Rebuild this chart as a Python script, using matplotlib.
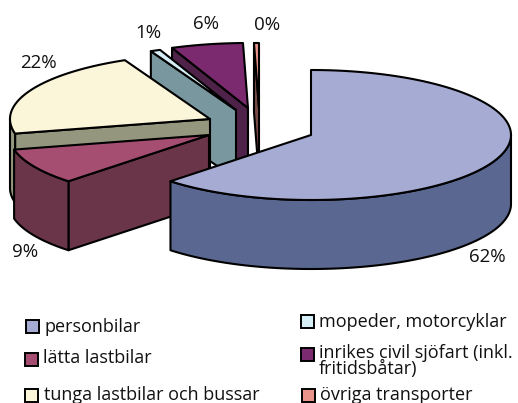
import matplotlib
matplotlib.use("Agg")
import matplotlib.pyplot as plt
import numpy as np
from matplotlib.patches import Polygon, Rectangle

plt.rcParams['font.family'] = ['Open Sans', 'DejaVu Sans']

# shares in percent, clockwise from 12 o'clock
categories = ["personbilar", "lätta lastbilar", "tunga lastbilar och bussar",
              "mopeder, motorcyklar", "inrikes civil sjöfart (inkl.\nfritidsbåtar)",
              "övriga transporter"]
shares = [62.4, 9, 21.6, 0.8, 5.8, 0.4]
pct_labels = ["62%", "9%", "22%", "1%", "6%", "0%"]

top_colors = ["#A6ABD3", "#A54E72", "#FBF6DA", "#D6EEF6", "#7B2A6F", "#E8948A"]
side_colors = ["#5A6790", "#6A3548", "#95967E", "#78979E", "#4F2249", "#7A4A46"]

# where each slice's centre ended up after exploding, image pixels
centers = [(311, 135), (209, 135), (210, 119), (236, 110), (248, 108), (259, 108)]
label_pos = [(487, 257), (25, 252), (38, 63), (148, 33), (206, 24), (267, 25)]
legend_pos = [(32, 326), (31, 359), (31, 395), (307, 321), (307, 354), (308, 395)]
legend_text_pos = [(45, 327), (43, 358), (44, 395), (319, 322), (319, 361), (320, 395)]

RX, RY, DEPTH = 200, 65, 69
LW = 1.5


def arc(center, a0, a1):
    a = np.radians(np.linspace(a0, a1, max(2, int(abs(a1 - a0)) + 2)))
    return np.column_stack([center[0] + RX * np.sin(a), center[1] - RY * np.cos(a)])


def extrude(ax, path, color):
    low = path + [0, DEPTH]
    ax.add_patch(Polygon(np.vstack([path, low[::-1]]), closed=True, fc=color,
                         ec="black", lw=LW, joinstyle="round"))


fig = plt.figure(figsize=(5.18, 4.03), dpi=100)
ax = fig.add_axes([0, 0, 1, 1])
ax.set_xlim(0, 518)
ax.set_ylim(403, 0)
ax.axis("off")

ends = np.cumsum(shares) / np.sum(shares) * 360
starts = np.concatenate([[0], ends[:-1]])

# back to front: last slice first
for i in range(len(shares) - 1, -1, -1):
    c = np.array(centers[i], dtype=float)
    a0, a1 = starts[i], ends[i]

    # cut face along the start edge (hidden on the first slice)
    if i > 0:
        extrude(ax, np.vstack([c, arc(c, a0, a0)[:1]]), side_colors[i])

    # outer wall, only the part facing the viewer
    lo, hi = max(a0, 90), min(a1, 270)
    if hi > lo:
        extrude(ax, arc(c, lo, hi), side_colors[i])

    ax.add_patch(Polygon(np.vstack([c, arc(c, a0, a1)]), closed=True, fc=top_colors[i],
                         ec="black", lw=LW, joinstyle="round"))

for txt, (x, y) in zip(pct_labels, label_pos):
    ax.text(x, y, txt, ha="center", va="center", fontsize=13.5, color="#111111")

for i, name in enumerate(categories):
    x, y = legend_pos[i]
    ax.add_patch(Rectangle((x - 6.5, y - 6.5), 13, 13, fc=top_colors[i], ec="black", lw=1.4))
    tx, ty = legend_text_pos[i]
    ax.text(tx, ty, name, ha="left", va="center", fontsize=13,
            color="#111111", linespacing=0.8)

fig.savefig("out.png", dpi=100)
